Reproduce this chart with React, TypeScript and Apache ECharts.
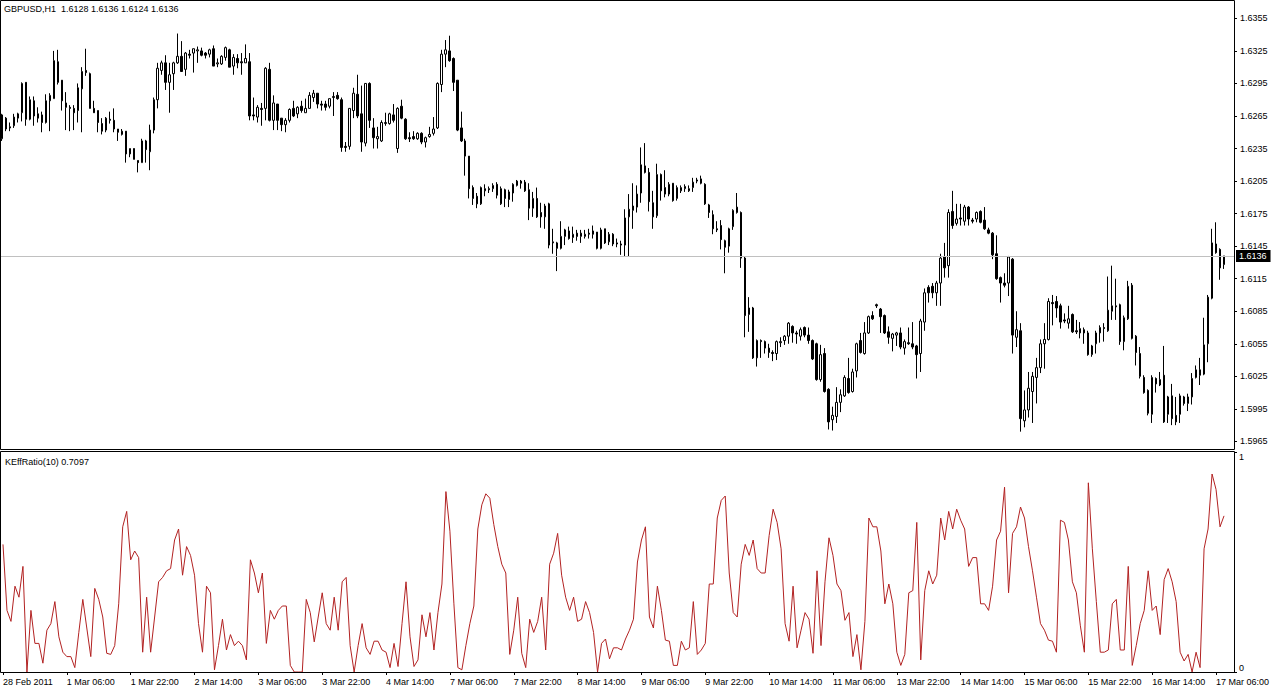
import React, { useEffect, useRef } from "react";
import * as echarts from "echarts";

const symbolName = "GBPUSD,H1";
const indicatorName = "KEffRatio(10)";
const fontFamily = "Liberation Sans";

const tickLabels = [
  "28 Feb 2011", "1 Mar 06:00", "1 Mar 22:00", "2 Mar 14:00", "3 Mar 06:00",
  "3 Mar 22:00", "4 Mar 14:00", "7 Mar 06:00", "7 Mar 22:00", "8 Mar 14:00",
  "9 Mar 06:00", "9 Mar 22:00", "10 Mar 14:00", "11 Mar 06:00", "13 Mar 22:00",
  "14 Mar 14:00", "15 Mar 06:00", "15 Mar 22:00", "16 Mar 14:00", "17 Mar 06:00",
];
const barsPerLabel = 16;
const slotCount = 309;

const priceTicks = [
  1.5965, 1.5995, 1.6025, 1.6055, 1.6085, 1.6115, 1.6145,
  1.6175, 1.6205, 1.6235, 1.6265, 1.6295, 1.6325, 1.6355,
];

const opens = [
  1.6244,1.6263,1.6255,1.6256,1.6263,1.6268,1.6296,1.6262,1.6279,1.6267,
  1.6266,1.6259,1.6279,1.6281,1.6315,1.6298,1.6277,1.6273,1.6272,1.6270,
  1.6290,1.6307,1.6304,1.6272,1.6270,1.6258,1.6252,1.6262,1.6261,1.6253,
  1.6248,1.6251,1.6230,1.6235,1.6224,1.6222,1.6242,1.6232,1.6252,1.6280,
  1.6307,1.6314,1.6296,1.6304,1.6314,1.6320,1.6308,1.6322,1.6323,1.6325,
  1.6325,1.6323,1.6322,1.6327,1.6313,1.6313,1.6319,1.6326,1.6311,1.6318,
  1.6315,1.6314,1.6315,1.6266,1.6264,1.6272,1.6272,1.6308,1.6261,1.6276,
  1.6263,1.6257,1.6261,1.6272,1.6267,1.6274,1.6268,1.6272,1.6282,1.6286,
  1.6276,1.6276,1.6274,1.6282,1.6284,1.6280,1.6237,1.6237,1.6270,1.6285,
  1.6267,1.6240,1.6295,1.6254,1.6244,1.6242,1.6258,1.6258,1.6266,1.6235,
  1.6274,1.6262,1.6245,1.6246,1.6244,1.6249,1.6241,1.6246,1.6249,1.6254,
  1.6294,1.6322,1.6325,1.6318,1.6298,1.6254,1.6242,1.6228,1.6199,1.6191,
  1.6184,1.6196,1.6198,1.6198,1.6202,1.6184,1.6197,1.6188,1.6194,1.6201,
  1.6205,1.6204,1.6197,1.6180,1.6189,1.6176,1.6172,1.6184,1.6148,1.6148,
  1.6143,1.6154,1.6159,1.6153,1.6157,1.6154,1.6154,1.6157,1.6159,1.6158,
  1.6143,1.6161,1.6149,1.6156,1.6148,1.6147,1.6146,1.6172,1.6178,1.6181,
  1.6194,1.6219,1.6213,1.6185,1.6173,1.6211,1.6199,1.6193,1.6203,1.6189,
  1.6196,1.6198,1.6196,1.6199,1.6206,1.6207,1.6202,1.6183,1.6174,1.6161,
  1.6164,1.6150,1.6145,1.6163,1.6176,1.6176,1.6134,1.6082,1.6088,1.6042,
  1.6058,1.6057,1.6051,1.6047,1.6046,1.6056,1.6058,1.6062,1.6071,1.6065,
  1.6062,1.6070,1.6063,1.6058,1.6055,1.6022,1.6046,1.6013,1.5985,1.5988,
  1.6001,1.6007,1.6023,1.6011,1.6030,1.6058,1.6046,1.6065,1.6081,1.6091,
  1.6087,1.6081,1.6066,1.6060,1.6063,1.6065,1.6051,1.6056,1.6055,1.6053,
  1.6046,1.6075,1.6107,1.6108,1.6102,1.6111,1.6135,1.6127,1.6177,1.6166,
  1.6171,1.6168,1.6181,1.6169,1.6170,1.6177,1.6169,1.6160,1.6157,1.6138,
  1.6116,1.6111,1.6111,1.6133,1.6061,1.6067,1.5984,1.5994,1.6011,1.6024,
  1.6033,1.6055,1.6059,1.6093,1.6094,1.6090,1.6077,1.6074,1.6082,1.6067,
  1.6065,1.6068,1.6065,1.6045,1.6055,1.6065,1.6070,1.6067,1.6085,1.6090,
  1.6091,1.6057,1.6078,1.6109,1.6062,1.6046,1.6024,1.6012,1.5990,1.6023,
  1.6017,1.6026,1.5990,1.6007,1.5989,1.5990,1.6006,1.6000,1.6006,1.6024,
  1.6031,1.6027,1.6055,1.6097,1.6147,1.6142,1.6128,
];

const closes = [
  1.6266,1.6253,1.6254,1.6264,1.6267,1.6295,1.6262,1.6280,1.6265,1.6263,
  1.6259,1.6279,1.6284,1.6316,1.6296,1.6279,1.6273,1.6272,1.6268,1.6291,
  1.6306,1.6305,1.6272,1.6268,1.6259,1.6251,1.6263,1.6261,1.6253,1.6250,
  1.6251,1.6230,1.6235,1.6225,1.6222,1.6242,1.6234,1.6252,1.6280,1.6309,
  1.6314,1.6296,1.6303,1.6314,1.6320,1.6306,1.6323,1.6321,1.6327,1.6326,
  1.6321,1.6321,1.6326,1.6311,1.6314,1.6320,1.6328,1.6310,1.6319,1.6314,
  1.6314,1.6318,1.6265,1.6265,1.6273,1.6271,1.6309,1.6261,1.6277,1.6261,
  1.6257,1.6261,1.6271,1.6265,1.6273,1.6270,1.6272,1.6284,1.6286,1.6276,
  1.6275,1.6273,1.6281,1.6283,1.6281,1.6236,1.6236,1.6272,1.6286,1.6265,
  1.6241,1.6295,1.6261,1.6245,1.6246,1.6259,1.6259,1.6267,1.6261,1.6272,
  1.6263,1.6244,1.6244,1.6244,1.6249,1.6241,1.6245,1.6248,1.6253,1.6295,
  1.6322,1.6326,1.6316,1.6296,1.6252,1.6242,1.6228,1.6198,1.6189,1.6184,
  1.6199,1.6198,1.6197,1.6201,1.6192,1.6198,1.6189,1.6195,1.6202,1.6205,
  1.6203,1.6196,1.6180,1.6189,1.6172,1.6172,1.6182,1.6146,1.6149,1.6143,
  1.6154,1.6160,1.6152,1.6156,1.6154,1.6157,1.6156,1.6156,1.6156,1.6143,
  1.6160,1.6148,1.6156,1.6147,1.6147,1.6146,1.6171,1.6179,1.6182,1.6193,
  1.6220,1.6213,1.6186,1.6172,1.6211,1.6196,1.6193,1.6202,1.6187,1.6199,
  1.6199,1.6200,1.6198,1.6204,1.6205,1.6203,1.6184,1.6176,1.6161,1.6160,
  1.6151,1.6144,1.6161,1.6178,1.6181,1.6134,1.6081,1.6088,1.6042,1.6058,
  1.6057,1.6051,1.6047,1.6046,1.6057,1.6057,1.6062,1.6074,1.6065,1.6064,
  1.6068,1.6063,1.6058,1.6041,1.6022,1.6045,1.6011,1.5983,1.5989,1.6001,
  1.6008,1.6024,1.6010,1.6029,1.6055,1.6047,1.6065,1.6080,1.6078,1.6090,
  1.6080,1.6065,1.6061,1.6064,1.6065,1.6052,1.6057,1.6055,1.6052,1.6045,
  1.6076,1.6102,1.6102,1.6102,1.6111,1.6134,1.6125,1.6176,1.6164,1.6170,
  1.6170,1.6181,1.6170,1.6168,1.6176,1.6167,1.6161,1.6157,1.6137,1.6115,
  1.6111,1.6109,1.6135,1.6063,1.6068,1.5986,1.5994,1.6014,1.6025,1.6033,
  1.6055,1.6059,1.6094,1.6092,1.6088,1.6075,1.6076,1.6078,1.6066,1.6066,
  1.6069,1.6065,1.6045,1.6053,1.6065,1.6070,1.6069,1.6086,1.6090,1.6089,
  1.6057,1.6079,1.6108,1.6060,1.6047,1.6025,1.6010,1.5991,1.6024,1.6018,
  1.6022,1.5983,1.6006,1.5986,1.5983,1.6007,1.6000,1.6006,1.6023,1.6031,
  1.6026,1.6054,1.6098,1.6148,1.6139,1.6125,1.6136,
];

const lows = [
  1.6242,1.6251,1.6251,1.6254,1.6259,1.6260,1.6256,1.6261,1.6256,1.6259,
  1.6250,1.6258,1.6251,1.6281,1.6294,1.6270,1.6252,1.6251,1.6252,1.6259,
  1.6250,1.6302,1.6272,1.6268,1.6250,1.6248,1.6250,1.6258,1.6250,1.6242,
  1.6247,1.6222,1.6227,1.6225,1.6213,1.6222,1.6222,1.6215,1.6249,1.6272,
  1.6303,1.6289,1.6268,1.6289,1.6313,1.6306,1.6302,1.6318,1.6305,1.6314,
  1.6320,1.6318,1.6319,1.6311,1.6310,1.6312,1.6316,1.6310,1.6303,1.6309,
  1.6303,1.6314,1.6261,1.6261,1.6259,1.6256,1.6261,1.6260,1.6252,1.6252,
  1.6251,1.6250,1.6259,1.6264,1.6263,1.6268,1.6268,1.6272,1.6278,1.6272,
  1.6270,1.6270,1.6272,1.6265,1.6280,1.6232,1.6232,1.6234,1.6263,1.6263,
  1.6232,1.6237,1.6254,1.6235,1.6235,1.6241,1.6256,1.6257,1.6259,1.6231,
  1.6262,1.6243,1.6241,1.6243,1.6243,1.6239,1.6236,1.6245,1.6247,1.6253,
  1.6287,1.6310,1.6315,1.6288,1.6251,1.6241,1.6210,1.6189,1.6183,1.6180,
  1.6183,1.6191,1.6194,1.6195,1.6189,1.6183,1.6181,1.6181,1.6186,1.6200,
  1.6198,1.6195,1.6169,1.6172,1.6171,1.6162,1.6161,1.6143,1.6138,1.6122,
  1.6142,1.6146,1.6151,1.6148,1.6150,1.6148,1.6152,1.6152,1.6152,1.6142,
  1.6142,1.6147,1.6146,1.6145,1.6144,1.6137,1.6135,1.6135,1.6161,1.6176,
  1.6185,1.6212,1.6177,1.6161,1.6171,1.6187,1.6190,1.6191,1.6186,1.6187,
  1.6194,1.6195,1.6195,1.6195,1.6203,1.6202,1.6183,1.6171,1.6156,1.6158,
  1.6142,1.6120,1.6139,1.6160,1.6175,1.6125,1.6061,1.6066,1.6041,1.6034,
  1.6042,1.6046,1.6042,1.6039,1.6040,1.6052,1.6054,1.6055,1.6056,1.6055,
  1.6058,1.6061,1.6055,1.6040,1.6021,1.6020,1.6010,1.5976,1.5975,1.5982,
  1.5992,1.6006,1.6009,1.6010,1.6024,1.6046,1.6045,1.6064,1.6077,1.6088,
  1.6065,1.6064,1.6055,1.6048,1.6053,1.6050,1.6045,1.6054,1.6050,1.6023,
  1.6029,1.6067,1.6093,1.6097,1.6090,1.6090,1.6116,1.6116,1.6161,1.6164,
  1.6164,1.6164,1.6164,1.6166,1.6167,1.6166,1.6160,1.6156,1.6133,1.6114,
  1.6093,1.6107,1.6099,1.6046,1.6052,1.5974,1.5978,1.5987,1.5982,1.6000,
  1.6028,1.6032,1.6058,1.6072,1.6079,1.6069,1.6074,1.6069,1.6065,1.6064,
  1.6060,1.6055,1.6044,1.6043,1.6046,1.6056,1.6057,1.6066,1.6077,1.6077,
  1.6054,1.6049,1.6077,1.6059,1.6035,1.6023,1.6009,1.5989,1.5982,1.6010,
  1.6016,1.5982,1.5982,1.5980,1.5980,1.5982,1.5998,1.5993,1.5999,1.6023,
  1.6017,1.6026,1.6038,1.6096,1.6138,1.6114,1.6124,
];

const highs = [
  1.6267,1.6264,1.6259,1.6267,1.6268,1.6296,1.6296,1.6283,1.6283,1.6273,
  1.6269,1.6285,1.6286,1.6325,1.6326,1.6298,1.6287,1.6275,1.6275,1.6295,
  1.6310,1.6327,1.6305,1.6279,1.6270,1.6263,1.6264,1.6269,1.6272,1.6253,
  1.6253,1.6251,1.6235,1.6235,1.6224,1.6244,1.6243,1.6257,1.6282,1.6314,
  1.6316,1.6321,1.6314,1.6315,1.6341,1.6334,1.6324,1.6326,1.6327,1.6329,
  1.6328,1.6324,1.6327,1.6330,1.6318,1.6321,1.6329,1.6327,1.6322,1.6322,
  1.6323,1.6331,1.6323,1.6282,1.6275,1.6277,1.6310,1.6314,1.6284,1.6276,
  1.6263,1.6263,1.6272,1.6279,1.6274,1.6279,1.6281,1.6287,1.6289,1.6286,
  1.6279,1.6279,1.6281,1.6287,1.6287,1.6282,1.6241,1.6272,1.6291,1.6303,
  1.6293,1.6295,1.6296,1.6263,1.6255,1.6261,1.6268,1.6268,1.6276,1.6273,
  1.6280,1.6263,1.6250,1.6251,1.6250,1.6250,1.6246,1.6255,1.6264,1.6296,
  1.6326,1.6335,1.6339,1.6319,1.6298,1.6269,1.6244,1.6228,1.6201,1.6194,
  1.6200,1.6202,1.6200,1.6203,1.6204,1.6200,1.6198,1.6197,1.6203,1.6206,
  1.6206,1.6206,1.6203,1.6195,1.6199,1.6185,1.6184,1.6185,1.6161,1.6149,
  1.6168,1.6161,1.6163,1.6163,1.6160,1.6160,1.6160,1.6161,1.6164,1.6158,
  1.6162,1.6161,1.6158,1.6157,1.6152,1.6150,1.6179,1.6193,1.6203,1.6201,
  1.6236,1.6240,1.6217,1.6196,1.6221,1.6212,1.6215,1.6204,1.6203,1.6201,
  1.6201,1.6202,1.6201,1.6208,1.6208,1.6210,1.6203,1.6184,1.6178,1.6168,
  1.6169,1.6151,1.6162,1.6179,1.6194,1.6177,1.6135,1.6098,1.6089,1.6059,
  1.6059,1.6058,1.6055,1.6049,1.6058,1.6061,1.6063,1.6075,1.6072,1.6067,
  1.6070,1.6071,1.6070,1.6059,1.6056,1.6054,1.6051,1.6014,1.5997,1.6015,
  1.6013,1.6026,1.6042,1.6032,1.6056,1.6065,1.6075,1.6081,1.6085,1.6092,
  1.6088,1.6082,1.6071,1.6065,1.6066,1.6070,1.6059,1.6070,1.6075,1.6054,
  1.6078,1.6106,1.6109,1.6111,1.6113,1.6138,1.6148,1.6179,1.6196,1.6184,
  1.6184,1.6183,1.6182,1.6171,1.6177,1.6178,1.6181,1.6162,1.6158,1.6155,
  1.6117,1.6120,1.6136,1.6134,1.6085,1.6074,1.6012,1.6029,1.6029,1.6042,
  1.6059,1.6074,1.6097,1.6100,1.6099,1.6092,1.6083,1.6090,1.6083,1.6077,
  1.6075,1.6070,1.6067,1.6054,1.6067,1.6072,1.6074,1.6117,1.6127,1.6115,
  1.6092,1.6081,1.6113,1.6111,1.6063,1.6052,1.6026,1.6013,1.6026,1.6024,
  1.6029,1.6053,1.6007,1.6018,1.6006,1.6009,1.6007,1.6009,1.6028,1.6035,
  1.6042,1.6079,1.6100,1.6161,1.6167,1.6143,1.6136,
];

const effRatio = [
  0.58,0.28,0.23,0.39,0.34,0.48,0.00,0.28,0.13,0.13,
  0.04,0.19,0.22,0.32,0.16,0.09,0.07,0.07,0.02,0.18,
  0.33,0.20,0.07,0.38,0.33,0.25,0.085,0.08,0.12,0.31,
  0.66,0.73,0.51,0.55,0.52,0.09,0.34,0.09,0.25,0.41,
  0.43,0.46,0.47,0.60,0.65,0.44,0.57,0.53,0.44,0.22,
  0.09,0.39,0.36,0.01,0.12,0.24,0.10,0.17,0.12,0.14,
  0.12,0.055,0.51,0.45,0.36,0.45,0.13,0.28,0.24,0.28,
  0.30,0.30,0.03,0.00,0.00,0.00,0.33,0.27,0.137,0.25,
  0.36,0.22,0.19,0.34,0.19,0.41,0.43,0.12,0.00,0.12,
  0.22,0.11,0.08,0.14,0.14,0.10,0.09,0.02,0.13,0.025,
  0.22,0.41,0.16,0.025,0.055,0.26,0.16,0.27,0.10,0.27,
  0.40,0.82,0.64,0.31,0.02,0.01,0.12,0.22,0.30,0.65,
  0.76,0.81,0.79,0.67,0.57,0.49,0.45,0.08,0.19,0.34,
  0.085,0.02,0.24,0.18,0.23,0.34,0.10,0.49,0.54,0.63,
  0.44,0.34,0.28,0.34,0.23,0.24,0.32,0.27,0.18,0.00,
  0.13,0.15,0.06,0.11,0.11,0.10,0.15,0.19,0.24,0.50,
  0.60,0.66,0.25,0.20,0.39,0.28,0.145,0.14,0.03,0.03,
  0.14,0.10,0.11,0.32,0.08,0.10,0.13,0.40,0.40,0.70,
  0.78,0.80,0.45,0.27,0.25,0.49,0.58,0.53,0.60,0.47,
  0.45,0.45,0.62,0.74,0.68,0.56,0.22,0.14,0.39,0.11,
  0.19,0.27,0.24,0.085,0.46,0.12,0.41,0.61,0.53,0.40,
  0.37,0.235,0.27,0.07,0.17,0.01,0.23,0.70,0.66,0.66,
  0.55,0.31,0.40,0.31,0.09,0.03,0.08,0.36,0.37,0.68,
  0.055,0.37,0.46,0.40,0.44,0.70,0.60,0.73,0.65,0.74,
  0.69,0.65,0.48,0.52,0.52,0.31,0.31,0.28,0.39,0.60,
  0.64,0.84,0.36,0.63,0.66,0.75,0.70,0.57,0.46,0.34,
  0.22,0.19,0.145,0.14,0.09,0.69,0.68,0.60,0.41,0.36,
  0.21,0.09,0.86,0.56,0.32,0.09,0.09,0.10,0.31,0.33,
  0.10,0.10,0.48,0.03,0.12,0.22,0.28,0.46,0.28,0.30,
  0.17,0.42,0.47,0.41,0.32,0.09,0.05,0.08,0.00,0.09,
  0.02,0.56,0.65,0.90,0.83,0.66,0.7097,
];

export default function App() {
  const ref = useRef<HTMLDivElement>(null);

  useEffect(() => {
    if (!ref.current) return;
    const chart = echarts.init(ref.current, null, { renderer: "svg" });

    const categories = Array.from({ length: slotCount }, (_, i) => String(i));
    const candles = opens.map((o, i) => [o, closes[i], lows[i], highs[i]]);
    const last = opens.length - 1;
    const header =
      symbolName + "\u00a0 " +
      [opens[last], highs[last], lows[last], closes[last]].map((v) => v.toFixed(4)).join(" ");
    const subHeader = indicatorName + " " + effRatio[last].toFixed(4);
    const isLabelIndex = (i: number) =>
      i % barsPerLabel === 0 && i / barsPerLabel < tickLabels.length;

    const textBase = { fontSize: 9, fontFamily, color: "#000" };

    const option: any = {
      animation: false,
      backgroundColor: "#fff",
      grid: [
        { left: 0, top: 1, width: 1234, height: 448, containLabel: false },
        { left: 0, top: 452, width: 1234, height: 220, containLabel: false },
      ],
      xAxis: [
        {
          type: "category",
          gridIndex: 0,
          data: categories,
          boundaryGap: true,
          axisLine: { show: false },
          axisTick: { show: false },
          axisLabel: { show: false },
          splitLine: { show: false },
        },
        {
          type: "category",
          gridIndex: 1,
          data: categories,
          boundaryGap: true,
          axisLine: { show: false },
          axisTick: {
            show: true,
            alignWithLabel: true,
            interval: (i: number) => isLabelIndex(i),
            length: 3,
            lineStyle: { color: "#000", width: 1 },
          },
          axisLabel: {
            show: true,
            interval: (i: number) => isLabelIndex(i),
            formatter: (_v: string, i: number) =>
              isLabelIndex(i) ? tickLabels[i / barsPerLabel] : "",
            align: "left",
            margin: 5,
            ...textBase,
          },
          splitLine: { show: false },
        },
      ],
      yAxis: [
        {
          type: "value",
          gridIndex: 0,
          position: "right",
          min: 1.5958,
          max: 1.6371,
          axisLine: { show: false },
          splitLine: { show: false },
          axisTick: {
            show: true,
            customValues: priceTicks,
            length: 3,
            lineStyle: { color: "#000" },
          },
          axisLabel: {
            customValues: priceTicks,
            formatter: (v: number) => v.toFixed(4),
            margin: 6,
            ...textBase,
          },
        },
        {
          type: "value",
          gridIndex: 1,
          position: "right",
          min: 0,
          max: 1,
          interval: 1,
          axisLine: { show: false },
          splitLine: { show: false },
          axisTick: { show: true, length: 3, lineStyle: { color: "#000" } },
          axisLabel: {
            margin: 5,
            verticalAlignMinLabel: "bottom",
            verticalAlignMaxLabel: "top",
            ...textBase,
          },
        },
      ],
      graphic: [
        {
          type: "rect",
          z: 100,
          silent: true,
          shape: { x: 0.5, y: 0.5, width: 1234, height: 449 },
          style: { fill: "none", stroke: "#000", lineWidth: 1 },
        },
        {
          type: "rect",
          z: 100,
          silent: true,
          shape: { x: 0.5, y: 451.5, width: 1234, height: 221 },
          style: { fill: "none", stroke: "#000", lineWidth: 1 },
        },
        {
          type: "text",
          z: 100,
          silent: true,
          x: 4,
          y: 9,
          style: { text: header, fill: "#000", fontSize: 9, fontFamily, verticalAlign: "middle" },
        },
        {
          type: "text",
          z: 100,
          silent: true,
          x: 5,
          y: 462,
          style: { text: subHeader, fill: "#000", fontSize: 9, fontFamily, verticalAlign: "middle" },
        },
      ],
      series: [
        {
          type: "candlestick",
          xAxisIndex: 0,
          yAxisIndex: 0,
          data: candles,
          barWidth: 2,
          silent: true,
          itemStyle: {
            color: "#fff",
            color0: "#000",
            borderColor: "#000",
            borderColor0: "#000",
            borderColorDoji: "#000",
            borderWidth: 1,
          },
          markLine: {
            silent: true,
            precision: 4,
            symbol: ["none", "none"],
            data: [{ yAxis: closes[last] }],
            lineStyle: { color: "#c0c0c0", width: 1, type: "solid" },
            label: {
              show: true,
              position: "end",
              distance: 2,
              formatter: closes[last].toFixed(4),
              backgroundColor: "#000",
              color: "#fff",
              padding: [2, 4, 1, 3],
              fontSize: 9,
              fontFamily,
            },
          },
        },
        {
          type: "line",
          xAxisIndex: 1,
          yAxisIndex: 1,
          data: effRatio,
          showSymbol: false,
          symbol: "none",
          silent: true,
          lineStyle: { color: "#b22222", width: 1 },
        },
      ],
    };

    chart.setOption(option);
    return () => chart.dispose();
  }, []);

  return (
    <div
      ref={ref}
      style={{ position: "fixed", left: 0, top: 0, width: 1273, height: 690, background: "#fff" }}
    />
  );
}
